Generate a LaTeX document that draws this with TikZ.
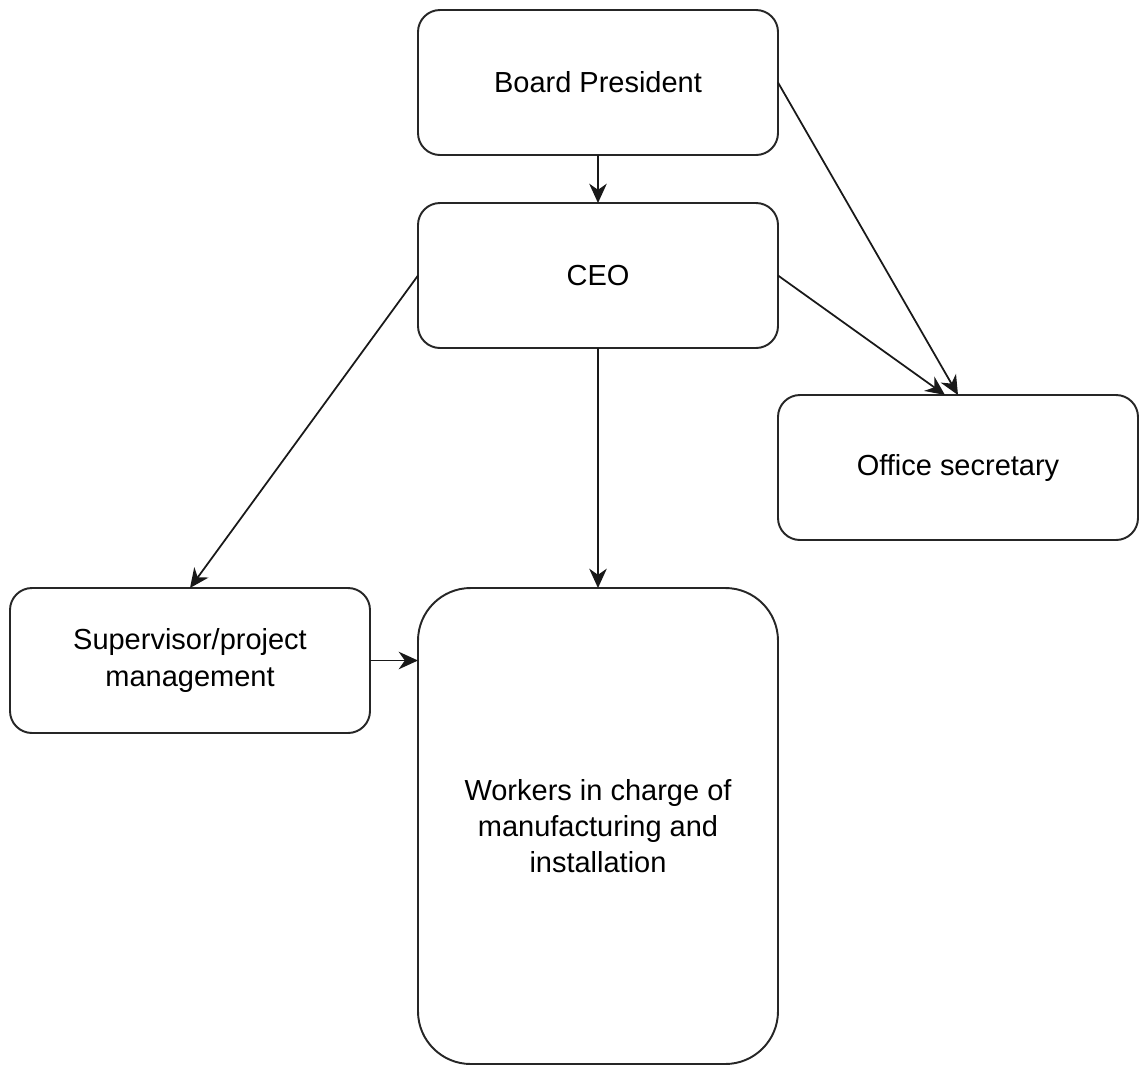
\documentclass[tikz,border=0pt]{standalone}
\usepackage{fontspec}
\setmainfont{Liberation Sans}
\usepackage{tikz}
\usetikzlibrary{arrows.meta, positioning}
\tikzset{
  orgbox/.style={rectangle, rounded corners=12.5pt, draw=black!85, line width=1.1pt,
                 align=center, minimum width=7.2cm, minimum height=2.9cm, inner sep=4pt,
                 outer sep=0pt, font=\fontsize{16.5}{20.5}\selectfont},
  link/.style={-{Stealth[length=11pt, width=10pt, inset=3.5pt]}, line width=1pt, draw=black!90},
}

\begin{document}
\begin{tikzpicture}[node distance=0.96cm]
    \useasboundingbox (0,0) rectangle (22.82,-21.32);

    \node[orgbox] (pres) at (11.96,-1.65) {Board President};
    \node[orgbox, below=of pres] (ceo) {CEO};
    \node[orgbox, below right=0.94cm and 0cm of ceo.south east, anchor=north west] (secr) {Office secretary};
    \node[orgbox, below=4.8cm of ceo, minimum height=9.52cm, rounded corners=30pt] (workers) {Workers in charge of\\manufacturing and\\installation};
    \node[orgbox, left=of workers.north west, anchor=north east] (superv) {Supervisor/project\\management};

    \draw[link] (pres) -- (ceo);
    \draw[link] (pres.east) -- (secr.north);
    \draw[link] (ceo.east) -- ([xshift=-0.26cm]secr.north);
    \draw[link] (ceo.west) -- (superv.north);
    \draw[link] (ceo) -- (workers);
    \draw[link] (superv.east) -- (superv.east -| workers.west);
\end{tikzpicture}
\end{document}
